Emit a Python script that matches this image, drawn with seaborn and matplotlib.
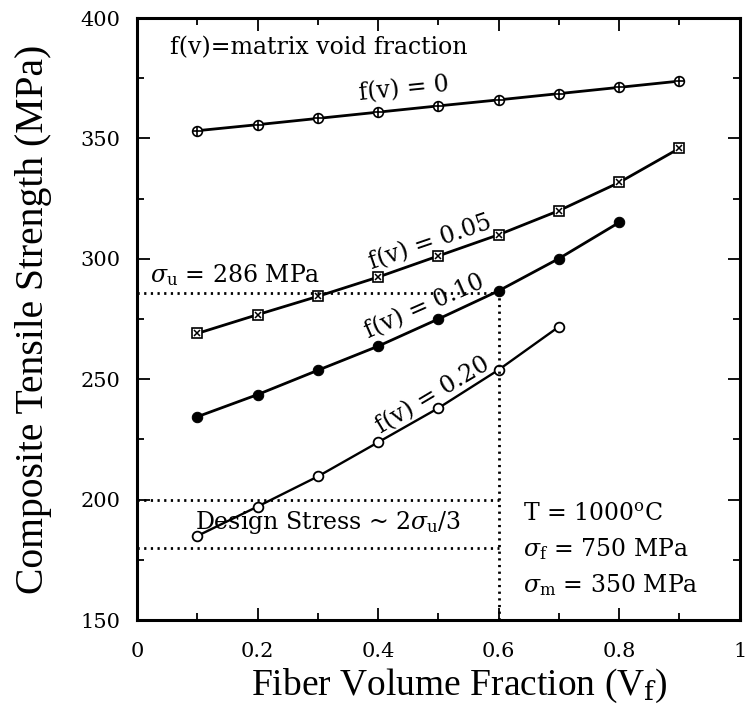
import numpy as np
import seaborn as sns
import matplotlib.pyplot as plt
from matplotlib.ticker import MultipleLocator

# values (MPa)
vf = [0.1, 0.2, 0.3, 0.4, 0.5, 0.6, 0.7, 0.8, 0.9]
fv_00 = [353.2, 355.7, 358.3, 360.9, 363.5, 366.0, 368.6, 371.2, 373.8]
fv_05 = [269.0, 276.8, 284.4, 292.4, 301.2, 310.0, 320.0, 331.7, 345.9]
fv_10 = [234.4, 243.6, 253.7, 263.7, 275.0, 286.7, 300.1, 315.1]
fv_20 = [184.9, 197.1, 209.6, 223.8, 238.0, 253.9, 271.8]

sigma_u = 286
design_lo, design_hi = 180, 200
vf_design = 0.6

sns.set_style("ticks", {"axes.edgecolor": "black", "xtick.color": "black",
                        "ytick.color": "black", "text.color": "black",
                        "axes.labelcolor": "black"})
plt.rcParams['mathtext.fontset'] = 'dejavuserif'
plt.rcParams['font.family'] = ['DejaVu Serif']

fig = plt.figure(figsize=(7.46, 7.06), dpi=100)
ax = fig.add_axes([0.1836, 0.1218, 0.808, 0.8527])

lw = 2.0
# f(v)=0 : circle with plus
sns.lineplot(x=vf, y=fv_00, ax=ax, color='black', lw=lw, marker='o', ms=7,
             mfc='white', mec='black', mew=1.2)
ax.plot(vf, fv_00, ls='none', marker='+', ms=7, color='black', mew=1.2)
# f(v)=0.05 : square with x
sns.lineplot(x=vf, y=fv_05, ax=ax, color='black', lw=lw, marker='s', ms=6.5,
             mfc='white', mec='black', mew=1.2)
ax.plot(vf, fv_05, ls='none', marker='x', ms=5, color='black', mew=1.1)
# f(v)=0.10 : filled circle
sns.lineplot(x=vf[:len(fv_10)], y=fv_10, ax=ax, color='black', lw=lw, marker='o',
             ms=7.5, mfc='black', mec='black')
# f(v)=0.20 : open circle
sns.lineplot(x=vf[:len(fv_20)], y=fv_20, ax=ax, color='black', lw=lw - 0.3, marker='o',
             ms=7, mfc='white', mec='black', mew=1.3)

# dotted design lines
dot = dict(color='black', lw=2, ls=(0, (0.8, 1.6)))
ax.plot([0, vf_design], [sigma_u, sigma_u], **dot)
ax.plot([vf_design, vf_design], [150, sigma_u], **dot)
ax.plot([0, vf_design], [design_hi, design_hi], **dot)
ax.plot([0, vf_design], [design_lo, design_lo], **dot)

ax.set_xlim(0, 1)
ax.set_ylim(150, 400)
ax.xaxis.set_major_locator(MultipleLocator(0.2))
ax.xaxis.set_minor_locator(MultipleLocator(0.1))
ax.yaxis.set_major_locator(MultipleLocator(50))
ax.yaxis.set_minor_locator(MultipleLocator(25))
ax.set_xticks([0, 0.2, 0.4, 0.6, 0.8, 1])
ax.set_xticklabels(['0', '0.2', '0.4', '0.6', '0.8', '1'])
ax.tick_params(which='both', direction='in', top=True, right=True, width=1.3)
ax.tick_params(which='major', length=9, labelsize=15)
ax.tick_params(which='minor', length=5)
ax.tick_params(axis='x', pad=16)
ax.tick_params(axis='y', pad=12)
for s in ax.spines.values():
    s.set_linewidth(2.2)

ax.set_xlabel(r"Fiber Volume Fraction (V$_\mathrm{f}$)", family='Liberation Serif',
              fontsize=27)
ax.xaxis.set_label_coords(0.535, -0.077, transform=ax.transAxes)
ax.xaxis.label.set_va('top')
ax.set_ylabel("Composite Tensile Strength (MPa)", family='Liberation Serif',
              fontsize=28.5, labelpad=20)


def slope_label(x, y, text, x0, x1, xs, ys):
    ang = np.degrees(np.arctan2(np.interp(x1, xs, ys) - np.interp(x0, xs, ys), x1 - x0))
    ax.text(x, y, text, fontsize=17, rotation=ang, rotation_mode='anchor',
            transform_rotates_text=True, ha='left', va='baseline')


slope_label(0.37, 366.0, "f(v) = 0", 0.3, 0.6, vf, fv_00)
slope_label(0.389, 295.5, "f(v) = 0.05", 0.3, 0.6, vf, fv_05)
slope_label(0.384, 267.0, "f(v) = 0.10", 0.3, 0.6, vf[:len(fv_10)], fv_10)
slope_label(0.405, 227.5, "f(v) = 0.20", 0.35, 0.6, vf[:len(fv_20)], fv_20)

ax.text(0.055, 385, "f(v)=matrix void fraction", fontsize=17, va='baseline')
ax.text(0.022, 290.5, r"$\sigma_\mathrm{u}$ = 286 MPa", fontsize=17, va='baseline')
ax.text(0.096, 188, r"Design Stress ~ 2$\sigma_\mathrm{u}$/3", fontsize=17, va='baseline')
ax.text(0.64, 191, r"T = 1000$^\mathrm{o}$C", fontsize=17, va='baseline')
ax.text(0.64, 176.5, r"$\sigma_\mathrm{f}$ = 750 MPa", fontsize=17, va='baseline')
ax.text(0.64, 161.5, r"$\sigma_\mathrm{m}$ = 350 MPa", fontsize=17, va='baseline')

fig.savefig("out.png", dpi=100)
